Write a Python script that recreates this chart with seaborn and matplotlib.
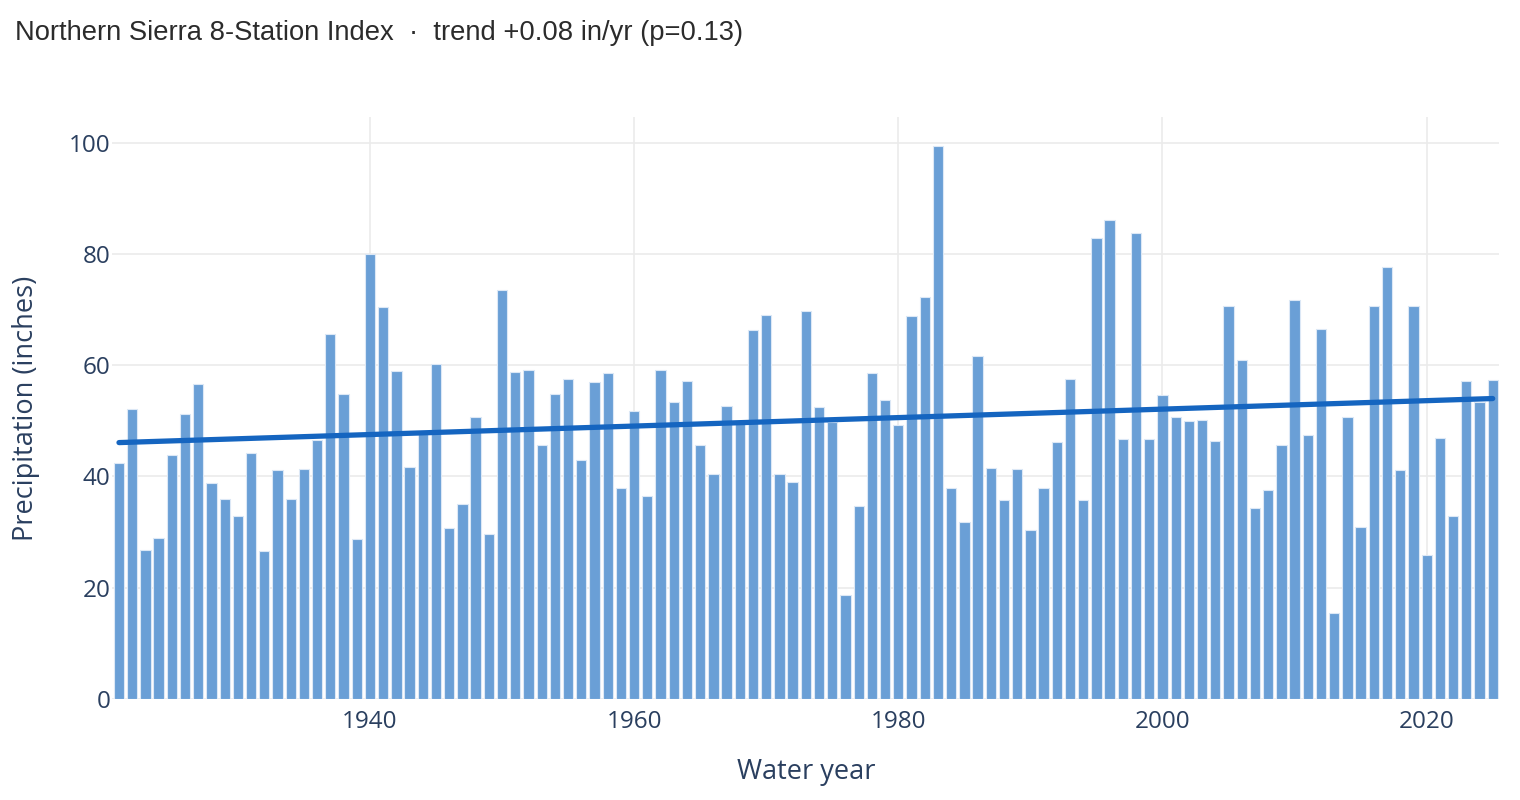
import numpy as np
import pandas as pd
import matplotlib
matplotlib.use("Agg")
import matplotlib.pyplot as plt
import seaborn as sns

# Northern Sierra 8-Station Index, water years 1921-2025 (inches)
years = list(range(1921, 2026))
precip = [
    42.4, 52.2, 26.8, 28.9, 43.8, 51.2, 56.7, 38.9, 35.9, 32.8,   # 1921-1930
    44.2, 26.6, 41.1, 35.9, 41.3, 46.6, 65.6, 54.9, 28.8, 79.9,   # 1931-1940
    70.4, 58.9, 41.7, 47.6, 60.2, 30.8, 35.0, 50.6, 29.6, 73.5,   # 1941-1950
    58.8, 59.2, 45.7, 54.8, 57.5, 43.0, 56.9, 58.6, 37.9, 51.8,   # 1951-1960
    36.5, 59.1, 53.3, 57.1, 45.6, 40.4, 52.7, 49.7, 66.3, 69.1,   # 1961-1970
    40.5, 39.0, 69.8, 52.4, 49.7, 18.7, 34.7, 58.6, 53.8, 49.2,   # 1971-1980
    68.8, 72.2, 99.4, 37.9, 31.8, 61.6, 41.5, 35.7, 41.4, 30.4,   # 1981-1990
    37.9, 46.1, 57.6, 35.8, 82.8, 86.0, 46.8, 83.7, 46.7, 54.7,   # 1991-2000
    50.7, 49.9, 50.2, 46.3, 70.6, 60.9, 34.4, 37.6, 45.6, 71.8,   # 2001-2010
    47.5, 66.5, 15.4, 50.7, 30.9, 70.6, 77.7, 41.1, 70.6, 25.9,   # 2011-2020
    46.9, 32.8, 57.2, 53.3, 57.3,                                 # 2021-2025
]
title = "Northern Sierra 8-Station Index  ·  trend +0.08 in/yr (p=0.13)"
x_ticks = [1940, 1960, 1980, 2000, 2020]
y_ticks = [0, 20, 40, 60, 80, 100]

df = pd.DataFrame({"year": years, "precip": precip})
slope, intercept = np.polyfit(df["year"], df["precip"], 1)
df["trend"] = intercept + slope * df["year"]

sns.set_style("white")
plt.rcParams["font.family"] = ["Open Sans", "DejaVu Sans"]

axis_color = "#2a3f5f"
fig = plt.figure(figsize=(15.2, 8), dpi=100)
ax = fig.add_axes([112.4 / 1520, 101 / 800, (1499.3 - 112.4) / 1520, 582 / 800])

sns.barplot(data=df, x="year", y="precip", native_scale=True, ax=ax,
            color="#6a9fd6", saturation=1, width=0.78,
            edgecolor="#dce8f6", linewidth=0.8, zorder=2)
sns.lineplot(data=df, x="year", y="trend", ax=ax, color="#1565c0",
             linewidth=3.8, zorder=3)

ax.set_xlim(1920.5, 2025.5)
ax.set_ylim(0, 104.6)
ax.set_xticks(x_ticks)
ax.set_yticks(y_ticks)
ax.grid(True, color="#ebebeb", linewidth=1.2, zorder=0)
ax.set_axisbelow(True)
for s in ax.spines.values():
    s.set_visible(False)
ax.tick_params(axis="both", length=0, labelsize=17.5, colors=axis_color)
ax.tick_params(axis="x", pad=8)
ax.tick_params(axis="y", pad=1.5)

ax.set_xlabel("Water year", fontsize=19.5, color=axis_color, labelpad=17)
ax.set_ylabel("Precipitation (inches)", fontsize=19.5, color=axis_color, labelpad=21)

fig.text(15 / 1520, 1 - 33 / 800, title, fontsize=19.7, color="#2b2b2b",
         ha="left", va="center", family=["Liberation Sans", "DejaVu Sans"])

fig.savefig("out.png", dpi=100)
